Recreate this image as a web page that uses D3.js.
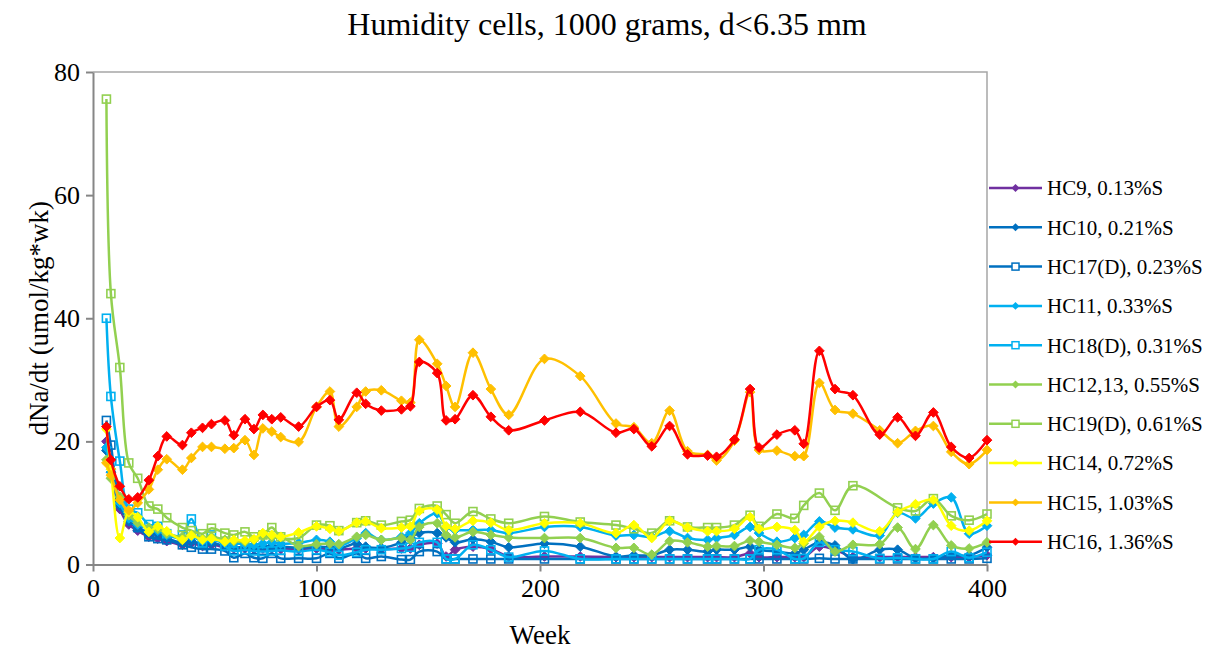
<!DOCTYPE html>
<html>
<head>
<meta charset="utf-8">
<script src="https://cdn.jsdelivr.net/npm/d3@7"></script>
<style>
  body { margin: 0; background: #fff; }
  svg, svg text { font-family: "Liberation Serif", "Times New Roman", serif; }
  .axis path, .axis line { stroke: #868686; stroke-width: 2; }
  .axis text { font-size: 26px; fill: #000; font-family: "Liberation Serif", "Times New Roman", serif; }
</style>
</head>
<body>
<svg id="chart" width="1213" height="650"></svg>
<script>
// sample weeks (shared by all cells)
var weeks = [6, 8, 12, 16, 20, 25, 29, 33, 40, 44, 49, 53, 59, 63, 68, 72, 76, 80, 84, 92,
  100, 106, 110, 118, 122, 129, 138, 142, 146, 154, 158, 162, 170, 178, 186, 202, 218, 234, 242, 250,
  258, 266, 275, 279, 287, 294, 298, 306, 314, 318, 325, 332, 340, 352, 360, 368, 376, 384, 392, 400];

var hc9 = [20.0, 15.0, 9.0, 6.5, 5.5, 4.5, 4.2, 3.8, 3.2, 3.5, 3.0, 3.2, 2.8, 2.6, 2.6, 2.5, 2.6, 2.6, 2.5, 2.5,
  2.6, 2.5, 2.4, 2.6, 2.6, 2.5, 2.6, 2.6, 3.2, 3.4, 1.3, 2.4, 2.9, 2.5, 1.3, 1.3, 1.3, 1.2, 1.2, 1.2,
  1.2, 1.2, 1.2, 1.2, 1.2, 1.8, 1.2, 1.2, 1.2, 1.2, 2.9, 2.4, 1.2, 1.2, 1.2, 1.2, 1.2, 1.2, 1.2, 1.5];
var hc10 = [18.5, 15.5, 9.5, 7.0, 6.0, 5.2, 5.0, 4.3, 3.5, 3.8, 3.3, 3.5, 3.0, 2.8, 2.8, 2.7, 2.9, 3.0, 2.9, 2.7,
  2.9, 2.8, 2.6, 3.4, 2.9, 2.7, 3.6, 4.4, 5.1, 5.1, 4.4, 3.6, 4.1, 3.7, 2.8, 3.4, 2.9, 1.3, 1.5, 1.5,
  2.4, 2.4, 2.1, 2.4, 2.4, 2.9, 2.4, 2.1, 1.8, 2.4, 3.6, 3.1, 0.8, 2.4, 2.4, 1.0, 1.0, 1.5, 1.5, 2.8];
var hc17 = [23.4, 19.4, 10.0, 7.5, 6.0, 4.5, 4.2, 4.0, 3.2, 2.8, 2.5, 2.5, 2.2, 1.1, 1.8, 1.1, 1.0, 1.8, 1.0, 1.0,
  1.0, 1.8, 1.0, 1.8, 1.0, 1.3, 0.8, 0.8, 2.1, 2.1, 0.9, 0.9, 0.9, 0.9, 0.9, 0.9, 0.9, 0.9, 0.9, 0.9,
  0.9, 0.9, 0.9, 0.9, 0.9, 0.9, 0.9, 0.9, 0.9, 0.9, 1.0, 0.9, 0.9, 0.9, 0.9, 0.9, 0.9, 0.9, 0.9, 1.0];
var hc11 = [19.0, 15.0, 10.0, 7.5, 6.5, 5.8, 5.5, 4.8, 4.2, 4.5, 3.8, 4.0, 3.5, 3.4, 3.3, 3.2, 3.4, 3.6, 3.4, 3.5,
  4.0, 3.7, 3.0, 4.3, 5.1, 4.0, 4.5, 5.1, 6.7, 8.3, 6.1, 5.6, 5.6, 5.6, 5.1, 6.1, 6.1, 4.7, 4.8, 4.5,
  5.4, 4.3, 4.0, 4.3, 4.8, 6.1, 5.1, 3.7, 4.3, 4.8, 7.0, 6.0, 5.7, 4.7, 8.4, 7.5, 9.9, 10.9, 5.0, 6.3];
var hc18 = [40.0, 27.3, 16.8, 9.0, 8.4, 6.5, 6.2, 5.0, 4.8, 7.4, 3.5, 4.8, 3.0, 2.2, 2.4, 2.2, 2.1, 2.2, 2.3, 2.1,
  2.4, 2.0, 1.5, 2.0, 2.4, 2.4, 2.6, 2.8, 3.6, 3.6, 0.9, 0.9, 3.2, 2.4, 1.2, 2.2, 0.9, 0.9, 0.9, 0.9,
  0.9, 0.9, 0.9, 0.9, 0.9, 0.9, 2.4, 2.4, 0.9, 1.0, 3.6, 2.4, 2.1, 1.0, 1.1, 0.9, 0.9, 2.1, 1.1, 2.0];
var hc12 = [17.0, 14.0, 11.0, 8.0, 6.8, 6.0, 5.8, 5.0, 4.5, 4.8, 4.2, 4.5, 4.0, 3.8, 3.7, 4.0, 4.6, 4.4, 4.5, 3.0,
  3.3, 3.4, 3.3, 4.5, 4.8, 4.0, 4.3, 4.0, 6.1, 6.7, 4.8, 4.4, 5.3, 4.8, 4.4, 4.3, 4.3, 2.7, 2.7, 1.6,
  3.8, 3.6, 2.9, 3.0, 3.0, 3.9, 3.7, 3.2, 2.7, 3.4, 4.5, 2.1, 3.2, 3.3, 6.0, 2.5, 6.4, 3.1, 2.6, 3.6];
var hc19 = [75.6, 44.0, 32.0, 16.5, 14.0, 9.5, 9.0, 7.6, 6.0, 5.5, 5.0, 5.9, 5.1, 4.8, 5.3, 4.5, 4.8, 6.0, 4.5, 4.3,
  6.4, 6.3, 5.5, 6.8, 7.1, 6.4, 7.0, 7.2, 9.1, 9.5, 8.1, 6.7, 8.6, 7.4, 6.7, 7.8, 6.9, 6.4, 5.8, 5.1,
  7.1, 6.1, 6.0, 6.0, 6.4, 8.0, 6.2, 8.2, 7.5, 9.6, 11.6, 8.8, 12.8, null, 9.2, 8.7, 10.7, 7.9, 7.2, 8.2];
var hc14 = [22.0, 15.5, 4.3, 8.5, 7.7, 5.3, 6.2, 5.4, 4.0, 4.7, 4.0, 4.2, 3.7, 4.0, 3.9, 4.1, 5.1, 4.8, 4.5, 5.2,
  6.2, 5.8, 5.4, 6.8, 7.0, 5.9, 6.0, 6.2, 8.7, 8.9, 6.2, 5.8, 7.1, 6.8, 5.6, 6.7, 6.7, 5.1, 6.4, 4.3,
  7.1, 6.0, 5.4, 5.4, 5.8, 7.7, 5.8, 6.1, 5.6, 3.7, 6.1, 7.1, 6.8, 5.4, 8.5, 9.8, 10.5, 6.3, 5.5, 7.1];
var hc15 = [16.5, 14.5, 10.5, 8.8, 10.0, 12.2, 15.4, 17.1, 15.4, 17.3, 19.1, 19.1, 18.8, 18.9, 20.2, 17.8, 22.1, 21.6, 20.7, 19.9,
  25.6, 28.1, 22.4, 25.6, 28.1, 28.3, 26.6, 26.3, 36.5, 32.6, 29.0, 25.6, 34.4, 28.5, 24.3, 33.4, 30.6, 22.9, 22.3, 19.7,
  25.0, 18.4, 17.8, 16.9, 20.1, 28.0, 18.6, 18.5, 17.6, 17.6, 29.5, 25.1, 24.5, 21.8, 19.7, 21.7, 22.5, 18.3, 16.3, 18.6];
var hc16 = [22.4, 17.0, 12.7, 10.6, 10.9, 13.7, 17.6, 20.8, 19.4, 21.4, 22.2, 22.8, 23.4, 21.0, 23.6, 22.0, 24.3, 23.6, 23.9, 22.4,
  25.6, 26.7, 23.5, 27.9, 26.1, 25.0, 25.2, 25.7, 32.9, 31.1, 23.4, 23.6, 27.5, 24.0, 21.8, 23.4, 24.8, 21.4, 22.0, 19.2,
  22.5, 17.9, 17.7, 17.5, 20.3, 28.5, 19.0, 21.1, 21.8, 19.6, 34.7, 28.5, 27.5, 21.1, 23.9, 20.9, 24.7, 19.1, 17.3, 20.2];

var names = ['HC9, 0.13%S', 'HC10, 0.21%S', 'HC17(D), 0.23%S', 'HC11, 0.33%S', 'HC18(D), 0.31%S',
  'HC12,13, 0.55%S', 'HC19(D), 0.61%S', 'HC14, 0.72%S', 'HC15, 1.03%S', 'HC16, 1.36%S'];
var xTicks = [0, 100, 200, 300, 400];
var yTicks = [0, 20, 40, 60, 80];

var series = [
  {name: names[0], values: hc9,  color: '#7030A0', marker: 'diamond'},
  {name: names[1], values: hc10, color: '#0070C0', marker: 'diamond'},
  {name: names[2], values: hc17, color: '#0070C0', marker: 'square'},
  {name: names[3], values: hc11, color: '#00B0F0', marker: 'diamond'},
  {name: names[4], values: hc18, color: '#00B0F0', marker: 'square'},
  {name: names[5], values: hc12, color: '#92D050', marker: 'diamond'},
  {name: names[6], values: hc19, color: '#92D050', marker: 'square'},
  {name: names[7], values: hc14, color: '#FFFF00', marker: 'diamond'},
  {name: names[8], values: hc15, color: '#FFC000', marker: 'diamond'},
  {name: names[9], values: hc16, color: '#FF0000', marker: 'diamond'}
];

var svg = d3.select('#chart'),
    margin = {top: 72, right: 226, bottom: 85.5, left: 93},
    width = 1213 - margin.left - margin.right,
    height = 650 - margin.top - margin.bottom,
    g = svg.append('g').attr('transform', 'translate(' + margin.left + ',' + margin.top + ')');

var x = d3.scaleLinear().domain([0, 400]).range([0, width]);
var y = d3.scaleLinear().domain([0, 80]).range([height, 0]);

svg.append('text')
    .attr('x', 607).attr('y', 35)
    .attr('text-anchor', 'middle')
    .attr('font-size', 32)
    .text('Humidity cells, 1000 grams, d<6.35 mm');

// frame: top and right sides
g.append('path')
    .attr('d', 'M0,0H' + width + 'V' + height)
    .attr('fill', 'none')
    .attr('stroke', '#a6a6a6')
    .attr('stroke-width', 1.5);

g.append('defs').append('clipPath').attr('id', 'plot')
  .append('rect').attr('x', 0).attr('y', -10).attr('width', width).attr('height', height + 10);

var line = d3.line()
    .x(function(d) { return x(d.w); })
    .y(function(d) { return y(d.v); })
    .curve(d3.curveCatmullRom.alpha(0.5));

var diamond = d3.symbol().type(d3.symbolDiamond2).size(60);

series.forEach(function(s) {
  // skip weeks a cell was not sampled
  var pts = weeks.map(function(w, i) { return {w: w, v: s.values[i]}; })
      .filter(function(d) { return d.v != null; });
  var sg = g.append('g');
  sg.append('path')
      .datum(pts)
      .attr('clip-path', 'url(#plot)')
      .attr('fill', 'none')
      .attr('stroke', s.color)
      .attr('stroke-width', 2.5)
      .attr('d', line);
  if (s.marker === 'diamond') {
    sg.selectAll('path.m').data(pts).enter().append('path')
        .attr('class', 'm')
        .attr('d', diamond)
        .attr('transform', function(d) { return 'translate(' + x(d.w) + ',' + y(d.v) + ')'; })
        .attr('fill', s.color)
        .attr('stroke', s.color)
        .attr('stroke-width', 1);
  } else {
    sg.selectAll('rect.m').data(pts).enter().append('rect')
        .attr('class', 'm')
        .attr('x', function(d) { return x(d.w) - 4; })
        .attr('y', function(d) { return y(d.v) - 4; })
        .attr('width', 8).attr('height', 8)
        .attr('fill', 'none')
        .attr('stroke', s.color)
        .attr('stroke-width', 1.6);
  }
});

g.append('g')
    .attr('class', 'axis')
    .call(d3.axisLeft(y).tickValues(yTicks).tickSize(7).tickSizeOuter(0).tickPadding(6));

g.append('g')
    .attr('class', 'axis')
    .attr('transform', 'translate(0,' + height + ')')
    .call(d3.axisBottom(x).tickValues(xTicks).tickSize(7).tickSizeOuter(0).tickPadding(7));

svg.append('text')
    .attr('x', margin.left + width / 2).attr('y', 644)
    .attr('text-anchor', 'middle')
    .attr('font-size', 27)
    .text('Week');

svg.append('text')
    .attr('transform', 'translate(48,' + (margin.top + height / 2) + ') rotate(-90)')
    .attr('text-anchor', 'middle')
    .attr('font-size', 27)
    .text('dNa/dt (umol/kg*wk)');

// legend
var legend = svg.append('g')
  .selectAll('g')
  .data(series)
  .enter().append('g')
    .attr('transform', function(d, i) { return 'translate(989,' + (188 + i * 39.3) + ')'; });

legend.append('line')
    .attr('x1', 0).attr('x2', 53)
    .attr('stroke', function(d) { return d.color; })
    .attr('stroke-width', 2.5);

legend.each(function(d) {
  var lg = d3.select(this);
  if (d.marker === 'diamond') {
    lg.append('path')
        .attr('d', d3.symbol().type(d3.symbolDiamond2).size(40))
        .attr('transform', 'translate(26.5,0)')
        .attr('fill', d.color);
  } else {
    lg.append('rect')
        .attr('x', 23).attr('y', -3.5).attr('width', 7).attr('height', 7)
        .attr('fill', '#fff')
        .attr('stroke', d.color)
        .attr('stroke-width', 1.5);
  }
});

legend.append('text')
    .attr('x', 58)
    .attr('dy', '0.35em')
    .attr('font-size', 21)
    .text(function(d) { return d.name; });
</script>
</body>
</html>
